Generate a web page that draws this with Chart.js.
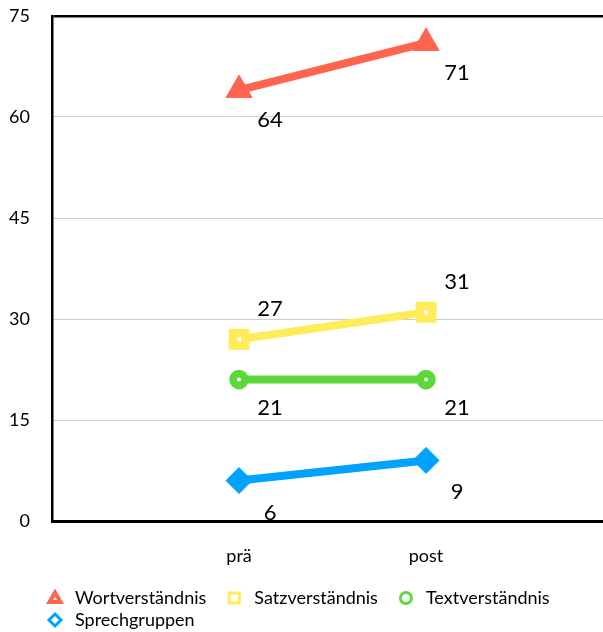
<!DOCTYPE html>
<html><head><meta charset="utf-8">
<script src="https://cdn.jsdelivr.net/npm/chart.js@4"></script>
<style>html,body{margin:0;padding:0;background:#fff;overflow:hidden;width:603px;height:632px;}canvas{display:block;}</style>
</head><body>
<canvas id="c" width="620" height="632"></canvas>
<script>
const categories = ['prä', 'post'];
const seriesNames = ['Wortverständnis', 'Satzverständnis', 'Textverständnis', 'Sprechgruppen'];
const wortValues = [64, 71];
const satzValues = [27, 31];
const textValues = [21, 21];
const sprechValues = [6, 9];
const yTickValues = [0, 15, 30, 45, 60, 75];

const seriesValues = [wortValues, satzValues, textValues, sprechValues];
const colors = ['#FF644E', '#FFEC5A', '#5DD83A', '#00A2FF'];
const FONT = 'Lato';
const NONE = 'rgba(0,0,0,0)';

function makeIcon(kind, color) {
  const c = document.createElement('canvas');
  c.width = 35; c.height = 18;
  const g = c.getContext('2d');
  const cx = 24, cy = 9;
  g.lineWidth = 3; g.strokeStyle = color; g.fillStyle = '#fff';
  g.beginPath();
  if (kind === 'triangle') { g.lineWidth = 4; g.moveTo(cx, cy - 5.5); g.lineTo(cx + 5.5, cy + 4); g.lineTo(cx - 5.5, cy + 4); g.closePath(); }
  else if (kind === 'rect') { g.rect(cx - 5, cy - 5, 10, 10); }
  else if (kind === 'circle') { g.arc(cx, cy, 5.5, 0, Math.PI * 2); }
  else { g.moveTo(cx, cy - 6); g.lineTo(cx + 6, cy); g.lineTo(cx, cy + 6); g.lineTo(cx - 6, cy); g.closePath(); }
  g.fill(); g.stroke();
  return c;
}

const pointCfg = [
  { pointStyle: 'triangle', pointRadius: 15, pointBackgroundColor: colors[0], pointBorderColor: colors[0], pointBorderWidth: 1 },
  { pointStyle: 'rect', pointRadius: 8.8, pointBackgroundColor: '#fff', pointBorderColor: colors[1], pointBorderWidth: 8.5 },
  { pointStyle: 'circle', pointRadius: 5.9, pointBackgroundColor: '#fff', pointBorderColor: colors[2], pointBorderWidth: 7.8 },
  { pointStyle: 'rectRot', pointRadius: 13, pointBackgroundColor: colors[3], pointBorderColor: colors[3], pointBorderWidth: 1 }
];
const iconKinds = ['triangle', 'rect', 'circle', 'rectRot'];
const labelDy = [30, -30, 28, 32];

const datasets = seriesNames.map((name, i) => Object.assign({
  label: name,
  data: seriesValues[i].map((v, j) => ({ x: j + 1, y: v })),
  borderColor: colors[i],
  backgroundColor: colors[i],
  borderWidth: 8,
  pointHoverRadius: 15,
  clip: false
}, pointCfg[i]));

const valueLabels = {
  id: 'valueLabels',
  afterDatasetsDraw(chart) {
    const ctx = chart.ctx;
    ctx.save();
    ctx.font = '22px ' + FONT;
    ctx.fillStyle = '#000';
    ctx.textAlign = 'center';
    ctx.textBaseline = 'middle';
    chart.data.datasets.forEach((ds, i) => {
      const meta = chart.getDatasetMeta(i);
      meta.data.forEach((el, j) => {
        ctx.fillText(String(seriesValues[i][j]), el.x + 31, el.y + labelDy[i]);
      });
    });
    ctx.restore();
  }
};

const legendShift = {
  id: 'legendShift',
  afterLayout(chart) {
    if (chart.legend) { chart.legend.left = 27; chart.legend.right = 603; }
  }
};

new Chart(document.getElementById('c'), {
  type: 'line',
  data: { datasets },
  options: {
    responsive: false,
    animation: false,
    devicePixelRatio: 1,
    layout: { autoPadding: false, padding: { left: 0, top: 16, right: 0, bottom: -7 } },
    scales: {
      x: {
        type: 'linear',
        min: 0,
        max: 3.037,
        afterBuildTicks: (s) => { s.ticks = categories.map((c, i) => ({ value: i + 1 })); },
        afterFit: (s) => { s.height = 64; },
        grid: { display: false, drawTicks: true, tickLength: 24, color: NONE, tickColor: NONE },
        border: { color: '#000', width: 3 },
        ticks: {
          autoSkip: false,
          maxRotation: 0,
          padding: 0,
          color: '#000',
          font: { family: FONT, size: 18 },
          callback: (v) => categories[v - 1] || ''
        }
      },
      y: {
        min: 0,
        max: 75,
        afterBuildTicks: (s) => { s.ticks = yTickValues.map(v => ({ value: v })); },
        afterFit: (s) => { s.width = 52; },
        grid: {
          drawTicks: true,
          tickLength: 22,
          tickColor: NONE,
          color: (c) => c.tick && c.tick.value === 75 ? '#000' : (c.tick && c.tick.value === 0 ? NONE : '#cdcdcd'),
          lineWidth: (c) => c.tick && c.tick.value === 75 ? 2.5 : 1
        },
        border: { color: '#000', width: 2.5 },
        ticks: {
          padding: 0,
          color: '#000',
          font: { family: FONT, size: 18 }
        }
      }
    },
    plugins: {
      tooltip: { enabled: false },
      legend: {
        position: 'bottom',
        align: 'start',
        labels: {
          usePointStyle: true,
          pointStyleWidth: 35,
          boxHeight: 18,
          padding: 4,
          color: '#000',
          font: { family: FONT, size: 18 },
          generateLabels: (chart) => chart.data.datasets.map((ds, i) => ({
            text: ds.label,
            pointStyle: makeIcon(iconKinds[i], colors[i]),
            fillStyle: colors[i],
            strokeStyle: colors[i],
            lineWidth: 0,
            fontColor: '#000',
            hidden: false,
            datasetIndex: i
          }))
        }
      }
    }
  },
  plugins: [valueLabels, legendShift]
});
</script>
</body></html>
